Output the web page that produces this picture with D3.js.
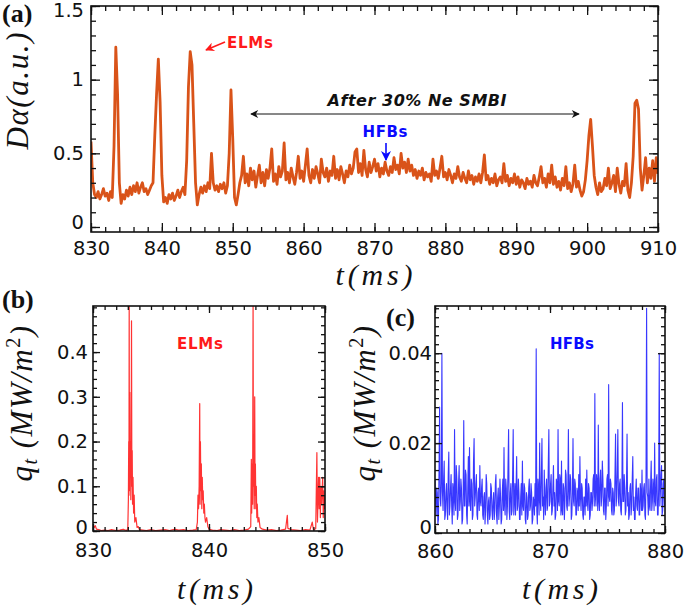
<!DOCTYPE html>
<html><head><meta charset="utf-8">
<script src="https://cdn.jsdelivr.net/npm/d3@7"></script>
<style>body{margin:0;background:#fff} svg{display:block}</style>
</head><body><svg id="c" width="685" height="609"></svg>
<script>
// ---------- DATA ----------
// Panel (a): D-alpha signal, sampled every 0.25 ms from 830 ms
const aStart = 830, aStep = 0.25;
const aValues = [
0.58,0.30,0.22,0.20, 0.24,0.19,0.22,0.26, 0.21,0.23,0.18,0.24, 0.20,0.55,1.22,0.90,
0.30,0.16,0.22,0.19, 0.25,0.21,0.27,0.22, 0.28,0.24,0.30,0.23, 0.27,0.30,0.24,0.26,
0.22,0.25,0.28,0.30, 0.62,0.90,1.14,0.85, 0.35,0.17,0.20,0.16, 0.22,0.19,0.23,0.18,
0.21,0.25,0.20,0.24, 0.27,0.22,0.45,0.95, 1.19,1.10,0.70,0.30, 0.15,0.22,0.27,0.23,
0.28,0.24,0.30,0.26, 0.50,0.30,0.25,0.28, 0.24,0.29,0.26,0.30, 0.23,0.28,0.50,0.93,
0.60,0.20,0.15,0.22, 0.30,0.35,0.48,0.30, 0.36,0.28,0.40,0.32, 0.38,0.27,0.35,0.42,
0.30,0.37,0.28,0.39, 0.33,0.40,0.53,0.31, 0.36,0.29,0.41,0.34, 0.38,0.57,0.32,0.37,
0.30,0.40,0.34,0.29, 0.37,0.48,0.33,0.38, 0.31,0.42,0.53,0.35, 0.30,0.39,0.33,0.41,
0.36,0.30,0.46,0.37, 0.34,0.40,0.31,0.38, 0.35,0.48,0.33,0.39, 0.32,0.41,0.36,0.30,
0.38,0.34,0.42,0.36, 0.40,0.51,0.53,0.37, 0.43,0.35,0.52,0.39, 0.34,0.44,0.37,0.41,
0.46,0.38,0.43,0.34, 0.40,0.36,0.44,0.38, 0.35,0.41,0.37,0.47, 0.39,0.42,0.36,0.50,
0.40,0.44,0.37,0.46, 0.38,0.42,0.35,0.39, 0.33,0.38,0.35,0.40, 0.32,0.37,0.34,0.36,
0.31,0.46,0.35,0.38, 0.33,0.40,0.48,0.34, 0.37,0.32,0.39,0.35, 0.30,0.36,0.33,0.41,
0.34,0.31,0.37,0.33, 0.30,0.38,0.32,0.35, 0.29,0.34,0.31,0.36, 0.30,0.37,0.49,0.32,
0.35,0.29,0.33,0.30, 0.36,0.28,0.32,0.34, 0.30,0.43,0.31,0.35, 0.28,0.33,0.30,0.36,
0.29,0.34,0.27,0.32, 0.30,0.26,0.33,0.29, 0.31,0.27,0.35,0.30, 0.28,0.34,0.41,0.30,
0.33,0.27,0.36,0.30, 0.42,0.29,0.34,0.27, 0.31,0.25,0.33,0.28, 0.41,0.26,0.30,0.24,
0.29,0.42,0.27,0.31, 0.25,0.21,0.24,0.32, 0.45,0.62,0.73,0.55, 0.35,0.27,0.22,0.30,
0.24,0.26,0.33,0.28, 0.40,0.26,0.30,0.35, 0.24,0.40,0.29,0.23, 0.31,0.28,0.43,0.25,
0.20,0.30,0.48,0.84, 0.86,0.80,0.40,0.25, 0.35,0.47,0.30,0.40, 0.33,0.45,0.31,0.47,
0.36
];
// Panel (b): heat flux during ELMs (irregular samples)
const bTimes = [
830.0,830.1,830.2,830.3,830.5,830.7,831.0,831.3,831.6,832.0,832.3,832.6,832.9,
833.00,833.05,833.08,833.10,833.12,833.14,833.17,833.20,833.23,833.26,833.29,833.32,833.35,833.38,833.41,833.45,833.50,833.55,833.60,833.70,833.80,833.9,
834.0,834.3,834.6,835.0,835.4,835.8,836.2,836.6,837.0,837.4,837.8,838.2,838.6,838.9,
839.00,839.05,839.10,839.15,839.20,839.23,839.26,839.30,839.34,839.38,839.42,839.46,839.50,839.55,839.60,839.65,839.70,839.80,839.90,
840.0,840.3,840.7,841.0,841.4,841.8,842.2,842.6,843.0,843.4,
843.60,843.65,843.68,843.72,843.76,843.80,843.83,843.87,843.90,843.94,843.97,844.00,844.04,844.08,844.12,844.16,844.22,844.30,844.4,844.6,
845.0,845.4,845.8,846.2,846.6,846.75,846.8,847.1,847.5,847.9,848.3,848.7,848.9,849.0,849.2,
849.30,849.35,849.45,849.50,849.55,849.60,849.65,849.70,849.80,849.85,849.90,849.95,850.0
];
const bValues = [
0.015,0.008,0.012,0.004,0.003,0.001,0.002,0.001,0.003,0.001,0.002,0.004,0.001,
0.005,0.07,0.20,0.08,0.52,0.09,0.31,0.12,0.20,0.07,0.15,0.47,0.10,0.18,0.06,0.12,0.04,0.08,0.02,0.03,0.008,0.01,
0.003,0.002,0.001,0.003,0.001,0.002,0.003,0.001,0.004,0.002,0.003,0.001,0.002,0.003,
0.02,0.08,0.05,0.10,0.285,0.06,0.20,0.09,0.15,0.05,0.12,0.07,0.09,0.04,0.06,0.03,0.02,0.03,0.01,
0.004,0.002,0.001,0.003,0.002,0.001,0.003,0.001,0.002,0.004,
0.01,0.16,0.04,0.15,0.06,0.52,0.10,0.12,0.05,0.30,0.08,0.15,0.05,0.10,0.03,0.06,0.02,0.03,0.008,0.004,
0.002,0.003,0.001,0.002,0.004,0.035,0.006,0.003,0.002,0.001,0.003,0.002,0.02,0.003,0.005,
0.175,0.02,0.12,0.05,0.12,0.03,0.10,0.06,0.12,0.03,0.09,0.05,0.08
];
// Panel (c): heat flux during HFBs, sampled every 0.05 ms from 860 ms
const cStart = 860, cStep = 0.05;
const cValues = [
0.012,0.007,0.004,0.010,0.009,0.002,0.003,0.014,0.028,0.008,0.006,0.011,0.040,0.009,0.005,0.012,0.016,0.003,0.004,0.009,
0.011,0.005,0.003,0.013,0.018,0.004,0.006,0.010,0.013,0.006,0.002,0.011,0.009,0.004,0.023,0.007,0.005,0.015,0.012,0.003,
0.004,0.011,0.015,0.005,0.007,0.012,0.010,0.002,0.003,0.009,0.025,0.006,0.006,0.014,0.013,0.004,0.002,0.010,0.017,0.006,
0.019,0.007,0.005,0.012,0.011,0.003,0.004,0.016,0.021,0.006,0.008,0.011,0.013,0.004,0.003,0.009,0.010,0.005,0.015,0.007,
0.006,0.010,0.012,0.004,0.003,0.008,0.009,0.002,0.005,0.013,0.011,0.004,0.002,0.007,0.008,0.003,0.004,0.011,0.010,0.005,
0.003,0.007,0.009,0.003,0.005,0.011,0.013,0.004,0.002,0.008,0.010,0.003,0.006,0.012,0.008,0.002,0.003,0.009,0.012,0.005,
0.019,0.006,0.004,0.012,0.010,0.003,0.006,0.015,0.023,0.005,0.003,0.009,0.011,0.004,0.005,0.013,0.023,0.004,0.007,0.011,
0.004,0.010,0.017,0.005,0.006,0.012,0.009,0.003,0.003,0.008,0.011,0.004,0.016,0.006,0.005,0.011,0.010,0.003,0.002,0.009,
0.008,0.003,0.004,0.010,0.012,0.005,0.006,0.011,0.009,0.002,0.003,0.008,0.007,0.004,0.011,0.006,0.041,0.005,0.002,0.012,
0.010,0.004,0.020,0.007,0.005,0.013,0.021,0.006,0.008,0.003,0.014,0.007,0.004,0.010,0.012,0.005,0.006,0.015,0.023,0.006,
0.007,0.011,0.013,0.004,0.005,0.010,0.015,0.006,0.009,0.003,0.004,0.012,0.011,0.005,0.023,0.007,0.006,0.013,0.012,0.004,
0.016,0.005,0.004,0.011,0.010,0.003,0.007,0.014,0.013,0.006,0.005,0.010,0.023,0.006,0.008,0.013,0.012,0.003,0.004,0.009,
0.021,0.007,0.006,0.012,0.011,0.004,0.004,0.010,0.009,0.005,0.013,0.006,0.017,0.008,0.005,0.011,0.010,0.004,0.003,0.008,
0.008,0.004,0.012,0.006,0.014,0.007,0.005,0.011,0.010,0.003,0.004,0.009,0.009,0.005,0.007,0.012,0.013,0.006,0.031,0.008,
0.006,0.013,0.011,0.005,0.024,0.007,0.005,0.012,0.014,0.006,0.008,0.016,0.012,0.005,0.004,0.010,0.010,0.003,0.006,0.012,
0.013,0.006,0.033,0.008,0.007,0.012,0.011,0.005,0.004,0.010,0.009,0.004,0.005,0.013,0.022,0.006,0.008,0.014,0.023,0.007,
0.006,0.011,0.012,0.005,0.004,0.009,0.029,0.007,0.007,0.013,0.010,0.004,0.005,0.011,0.022,0.006,0.009,0.003,0.004,0.010,
0.011,0.004,0.006,0.012,0.017,0.005,0.008,0.003,0.003,0.009,0.012,0.006,0.005,0.010,0.010,0.004,0.004,0.011,0.009,0.005,
0.014,0.005,0.006,0.010,0.011,0.004,0.003,0.013,0.050,0.009,0.008,0.004,0.012,0.006,0.005,0.011,0.016,0.005,0.007,0.012,
0.010,0.005,0.020,0.007,0.006,0.012,0.013,0.004,0.004,0.010,0.040,0.006,0.009,0.013,0.015,0.004,0.005,0.011,0.012,0.006,
0.008
];
// Tick labels
const aXTicks = [830,840,850,860,870,880,890,900,910];
const aYTicks = [0,0.5,1,1.5];
const bXTicks = [830,840,850];
const bYTicks = [0,0.1,0.2,0.3,0.4];
const cXTicks = [860,870,880];
const cYTicks = [0,0.02,0.04];

// ---------- DRAWING ----------
const svg = d3.select('#c');
const defs = svg.append('defs');
function marker(id, color, w, h){
  defs.append('marker').attr('id', id).attr('viewBox','0 0 10 10').attr('refX',9).attr('refY',5)
    .attr('markerWidth', w).attr('markerHeight', h).attr('orient','auto-start-reverse')
    .attr('markerUnits','userSpaceOnUse')
    .append('path').attr('d','M0,0 L10,5 L0,10 L3,5 Z').attr('fill', color);
}
marker('arrBlack','#111',11,8);
marker('arrRed','#ff1a1a',10,9);
marker('arrBlue','#0a0aff',10,10);

const tickFont = 'DejaVu Sans, Verdana, sans-serif';

function range(a,b,s){ const r=[]; for(let v=a; v<=b+s*1e-6; v+=s) r.push(+v.toFixed(6)); return r; }

function panel(o){
  const x = d3.scaleLinear().domain(o.xd).range([o.x0,o.x1]);
  const y = d3.scaleLinear().domain(o.yd).range([o.y1,o.y0]);
  const g = svg.append('g');
  const clipId = 'clip'+o.id;
  defs.append('clipPath').attr('id',clipId).append('rect')
    .attr('x',o.x0).attr('y',o.y0).attr('width',o.x1-o.x0).attr('height',o.y1-o.y0);
  g.append('path').datum(o.data).attr('clip-path','url(#'+clipId+')')
    .attr('fill','none').attr('stroke',o.color).attr('stroke-width',o.lw)
    .attr('stroke-opacity',o.op||1).attr('stroke-linejoin','round')
    .attr('d', d3.line().x(d=>x(d[0])).y(d=>y(d[1])));
  const fmt = v => String(v);
  function ax(gen, tr, vals, len, labels, pad){
    const a = gen.tickValues(vals).tickSize(-len).tickSizeOuter(0)
      .tickPadding(pad||0).tickFormat(labels?fmt:'');
    const ga = g.append('g').attr('transform',tr).call(a);
    ga.select('.domain').remove();
    ga.selectAll('line').attr('stroke','#111').attr('stroke-width',1.3);
    ga.selectAll('text').attr('font-family',tickFont).attr('font-size',o.fs).attr('fill','#111');
    return ga;
  }
  ax(d3.axisBottom(x), `translate(0,${o.y1})`, o.xMinor, o.minLen, false);
  ax(d3.axisBottom(x), `translate(0,${o.y1})`, o.xMajor, o.majLen, true, o.xPad);
  ax(d3.axisTop(x), `translate(0,${o.y0})`, o.xMinor, o.minLen, false);
  ax(d3.axisTop(x), `translate(0,${o.y0})`, o.xMajor, o.majLen, false);
  ax(d3.axisLeft(y), `translate(${o.x0},0)`, o.yMinor, o.minLen, false);
  const gl = ax(d3.axisLeft(y), `translate(${o.x0},0)`, o.yMajor, o.majLen, true, o.yPad);
  ax(d3.axisRight(y), `translate(${o.x1},0)`, o.yMinor, o.minLen, false);
  ax(d3.axisRight(y), `translate(${o.x1},0)`, o.yMajor, o.majLen, false);
  g.append('rect').attr('x',o.x0).attr('y',o.y0).attr('width',o.x1-o.x0).attr('height',o.y1-o.y0)
    .attr('fill','none').attr('stroke','#111').attr('stroke-width',1.6);
  return {x,y,g,gl};
}

const aData = aValues.map((v,i)=>[aStart+i*aStep, v]);
const bData = bTimes.map((t,i)=>[t, bValues[i]]);
const cData = cValues.map((v,i)=>[cStart+i*cStep, v]);

const A = panel({id:'a', x0:91, x1:658, y0:6, y1:232, xd:[830,910], yd:[-0.034,1.5],
  xMajor:aXTicks, xMinor:range(830,910,2), yMajor:aYTicks, yMinor:range(0,1.5,0.1),
  majLen:9, minLen:5, fs:19.5, xPad:9, yPad:7, data:aData, color:'#D95319', lw:2.8});
const B = panel({id:'b', x0:93, x1:325, y0:306, y1:531, xd:[830,850], yd:[0,0.503],
  xMajor:bXTicks, xMinor:range(830,850,1), yMajor:bYTicks, yMinor:range(0,0.5,0.02),
  majLen:7, minLen:4, fs:19.5, xPad:12, yPad:5, data:bData, color:'#ff0000', lw:1.2, op:0.8});
const C = panel({id:'c', x0:435, x1:665, y0:306, y1:533, xd:[860,880], yd:[0,0.0505],
  xMajor:cXTicks, xMinor:range(860,880,1), yMajor:cYTicks, yMinor:range(0,0.05,0.002),
  majLen:7, minLen:4, fs:19.5, xPad:11, yPad:3, data:cData, color:'#0000ff', lw:1.1, op:0.78});
// keep the top "1.5" label inside the picture, and lift the "0" labels a little
A.gl.selectAll('.tick text').filter(d=>d===1.5).attr('dy','0.55em');
A.gl.selectAll('.tick text').filter(d=>d===0).attr('dy','0.1em');
B.gl.selectAll('.tick text').filter(d=>d===0).attr('dy','0.15em');
C.gl.selectAll('.tick text').filter(d=>d===0).attr('dy','0.05em');

// ---------- TEXT ----------
const serif = 'Liberation Serif, Times New Roman, serif';
function t(x,y,s,opt){
  const e = svg.append('text').attr('x',x).attr('y',y).text(s)
    .attr('font-family',opt.ff||serif).attr('font-size',opt.fs).attr('fill',opt.fill||'#111')
    .attr('text-anchor',opt.anchor||'middle');
  if(opt.italic) e.attr('font-style','italic');
  if(opt.bold) e.attr('font-weight','bold');
  if(opt.len) e.attr('textLength',opt.len).attr('lengthAdjust',opt.adj||'spacing');
  return e;
}
// panel letters
t(2,22,'(a)',{fs:26,bold:true,anchor:'start'});
t(2,308,'(b)',{fs:26,bold:true,anchor:'start'});
t(386,326,'(c)',{fs:26,bold:true,anchor:'start'});

// axis titles
t(374,285,'t(ms)',{fs:30,italic:true,len:77});
t(215,599,'t(ms)',{fs:30,italic:true,len:76});
t(560,599,'t(ms)',{fs:30,italic:true,len:76});
t(0,0,'Dα(a.u.)',{fs:31,italic:true,len:117}).attr('transform','translate(28,91) rotate(-90)');

function qLabel(cx,cy){
  const e = svg.append('text').attr('transform',`translate(${cx},${cy}) rotate(-90)`)
    .attr('text-anchor','middle').attr('font-family',serif).attr('font-size',31)
    .attr('font-style','italic').attr('fill','#111').attr('letter-spacing',1.5);
  e.append('tspan').text('q');
  e.append('tspan').text('t').attr('font-size',20).attr('dy',5);
  e.append('tspan').text(' (MW/m').attr('dy',-5);
  e.append('tspan').text('2').attr('font-size',20).attr('font-style','normal').attr('dy',-12);
  e.append('tspan').text(')').attr('dy',12);
}
qLabel(32,403);
qLabel(375,403);

// annotations
const sansB = 'DejaVu Sans, Verdana, sans-serif';
t(250,48,'ELMs',{ff:sansB,fs:15,bold:true,fill:'#ff1a1a',len:46});
svg.append('line').attr('x1',225).attr('y1',42).attr('x2',206).attr('y2',50)
  .attr('stroke','#ff1a1a').attr('stroke-width',1.5).attr('marker-end','url(#arrRed)');
t(417,106,'After 30% Ne SMBI',{ff:sansB,fs:16,italic:true,len:179}).attr('font-weight',600);
svg.append('line').attr('x1',251).attr('y1',114).attr('x2',579).attr('y2',114)
  .attr('stroke','#111').attr('stroke-width',1)
  .attr('marker-start','url(#arrBlack)').attr('marker-end','url(#arrBlack)');
t(385,137,'HFBs',{ff:sansB,fs:15,bold:true,fill:'#0a0aff',len:45});
svg.append('line').attr('x1',386).attr('y1',143).attr('x2',386).attr('y2',160)
  .attr('stroke','#0a0aff').attr('stroke-width',1.6).attr('marker-end','url(#arrBlue)');
t(200,349,'ELMs',{ff:sansB,fs:15,bold:true,fill:'#ff1a1a',len:46});
t(572,349,'HFBs',{ff:sansB,fs:15,bold:true,fill:'#0a0aff',len:44});
</script></body></html>
